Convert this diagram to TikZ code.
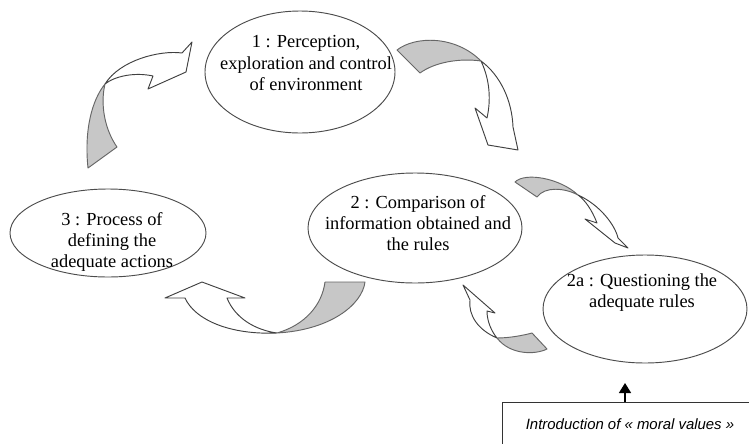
\documentclass[tikz,border=0pt]{standalone}
\usepackage{fontspec}
\setmainfont{Liberation Serif}
\newfontfamily\boxfont{Liberation Sans}
\usetikzlibrary{shapes.geometric}
\usetikzlibrary{arrows.meta}

\begin{document}
\begin{tikzpicture}[x=0.75pt, y=-0.75pt,
  stage/.style={ellipse, draw=black!70, line width=0.7pt, fill=white, inner sep=0pt},
  stagetext/.style={align=center, font=\fontsize{13.8}{15.8}\selectfont},
  front/.style={fill=white, draw=black!75, line width=0.7pt, line join=round},
  back/.style={fill=black!22, draw=black!60, line width=0.7pt, line join=round}]
  \clip (0,0) rectangle (749,443);
  \fill[white] (0,0) rectangle (749,443);

  % curved ribbon arrows
  \draw[back]  (397,50) .. controls (415,36) and (455,35) .. (481,61) .. controls (460,58) and (435,62) .. (420,73) -- cycle;
  \draw[front] (481,61) .. controls (500,75) and (512,100) .. (513,127) -- (518,150) -- (488,145) -- (475,108) -- (487,118) .. controls (491,100) and (490,80) .. (481,61);

  \draw[back]  (105,84) .. controls (100,105) and (105,130) .. (117,147) -- (88,168) .. controls (84,130) and (92,100) .. (105,84);
  \draw[front] (105,84) .. controls (120,60) and (160,50) .. (182,53) -- (192,42) -- (186,72) -- (148,89) -- (153,76) .. controls (135,72) and (115,76) .. (105,84);

  \draw[back]  (325,282) -- (365,282) .. controls (362,305) and (330,330) .. (277,333) .. controls (305,325) and (322,305) .. (325,282);
  \draw[front] (277,333) .. controls (230,335) and (195,320) .. (185,298) -- (165,298) -- (202,282) -- (245,298) -- (227,298) .. controls (235,318) and (255,330) .. (277,333);

  \draw[back]  (515,182) .. controls (525,172) and (560,178) .. (578,195) .. controls (565,188) and (545,186) .. (537,197) -- cycle;
  \draw[front] (578,195) .. controls (600,205) and (615,225) .. (618,238) -- (628,248) -- (615,243) -- (585,219) -- (597,223) .. controls (592,210) and (585,200) .. (578,195);

  \draw[back]  (497,338) .. controls (510,338) and (525,335) .. (532,333) -- (547,349) .. controls (535,355) and (510,355) .. (497,338);
  \draw[front] (497,338) .. controls (478,330) and (468,315) .. (470,300) -- (463,285) -- (495,313) -- (487,311) .. controls (487,322) and (492,332) .. (497,338);

  % stages
  \node[stage, minimum width=142.5pt, minimum height=91.5pt] (e1) at (300,72) {};
  \node[stage, minimum width=160.5pt, minimum height=82.5pt] (e2) at (415,228) {};
  \node[stage, minimum width=147pt, minimum height=66pt] (e3) at (108,233) {};
  \node[stage, minimum width=153pt, minimum height=81pt] (e2a) at (645,309) {};

  \node[stagetext] (t1) at (306,63) {1 : Perception,\\exploration and control\\of environment};
  \node[stagetext] (t2) at (418,223) {2 : Comparison of\\information obtained and\\the rules};
  \node[stagetext] (t3) at (112,242) {3 : Process of\\defining the\\adequate actions};
  \node[stagetext] (t2a) at (642,293) {2a : Questioning the\\adequate rules};

  % moral values
  \node[draw=black!80, line width=0.6pt, anchor=north west, minimum width=300pt, minimum height=60pt, inner sep=0pt] (box) at (502,402) {};
  \node[font=\boxfont\itshape\fontsize{11.2}{13}\selectfont] (boxtext) at (630,424) {Introduction of « moral values »};
  \coordinate (tip) at (625,383);
  \draw[-{Triangle[length=7.5pt,width=9pt]}, line width=1.1pt] (box.north -| tip) -- (tip);
\end{tikzpicture}
\end{document}
